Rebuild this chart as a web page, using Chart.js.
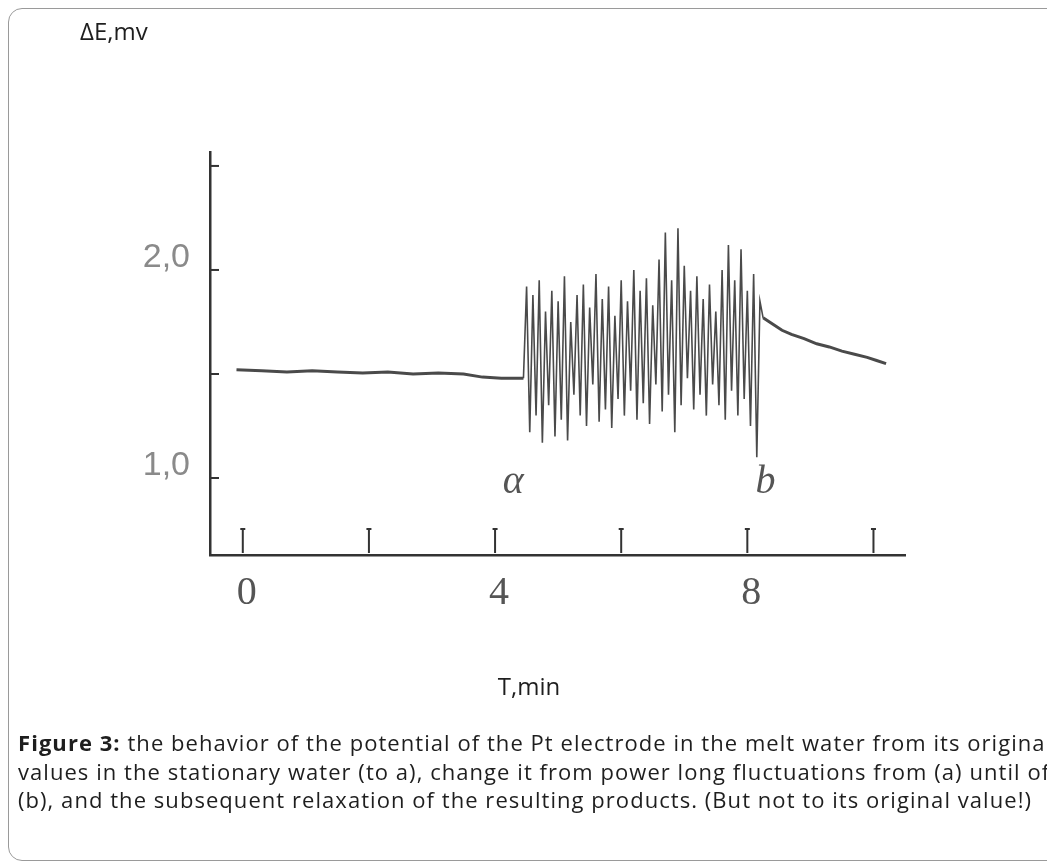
<!DOCTYPE html>
<html>
<head>
<meta charset="utf-8">
<script src="https://cdn.jsdelivr.net/npm/chart.js@4.4.1/dist/chart.umd.min.js"></script>
<style>
    html, body { margin: 0; padding: 0; background: #fff; width: 1047px; height: 865px; overflow: hidden; }
    #frame {
        position: absolute; left: 8px; top: 8px; width: 1100px; height: 853px;
        border: 1.5px solid #9a9a9a; border-radius: 14px; box-sizing: border-box;
    }
    #chart { position: absolute; left: 0; top: 0; }
    .txt { position: absolute; font-family: "Open Sans", sans-serif; color: #1e1e1e; white-space: nowrap; }
    #yTitle { left: 80px; top: 19px; font-size: 24px; line-height: 24px; }
    #xTitle { left: 529px; top: 674px; font-size: 24px; line-height: 24px; transform: translateX(-50%); }
    #caption { left: 18px; top: 728px; font-size: 22px; line-height: 28.5px; }
    #caption b { font-weight: 700; }
</style>
</head>
<body>
<div id="frame"></div>
<canvas id="chart" width="1047" height="865"></canvas>
<div class="txt" id="yTitle">ΔE,mv</div>
<div class="txt" id="xTitle">T,min</div>
<div class="txt" id="caption"><span id="l1"><b>Figure 3:</b> the behavior of the potential of the Pt electrode in the melt water from its original</span><br><span id="l2">values in the stationary water (to a), change it from power long fluctuations from (a) until of</span><br><span id="l3">(b), and the subsequent relaxation of the resulting products. (But not to its original value!)</span></div>

<script>
// 📌 ข้อมูลที่อ่านจากภาพ (เวลา นาที / ΔE, mV)
const baseTimes  = [-0.1, 0.3, 0.7, 1.1, 1.5, 1.9, 2.3, 2.7, 3.1, 3.5, 3.8, 4.1, 4.45];
const baseValues = [1.52, 1.515, 1.51, 1.515, 1.51, 1.505, 1.51, 1.50, 1.505, 1.50, 1.485, 1.48, 1.48];

const fluctTimes = [
    4.45, 4.50, 4.55, 4.60, 4.65, 4.70, 4.75, 4.80, 4.85, 4.90, 4.95, 5.00, 5.05, 5.10, 5.15, 5.20,
    5.25, 5.30, 5.35, 5.40, 5.45, 5.50, 5.55, 5.60, 5.65, 5.70, 5.75, 5.80, 5.85, 5.90, 5.95, 6.00,
    6.05, 6.10, 6.15, 6.20, 6.25, 6.30, 6.35, 6.40, 6.45, 6.50, 6.55, 6.60, 6.65, 6.70, 6.75, 6.80,
    6.85, 6.90, 6.95, 7.00, 7.05, 7.10, 7.15, 7.20, 7.25, 7.30, 7.35, 7.40, 7.45, 7.50, 7.55, 7.60,
    7.65, 7.70, 7.75, 7.80, 7.85, 7.90, 7.95, 8.00, 8.05, 8.10, 8.15, 8.20, 8.25
];
const fluctValues = [
    1.48, 1.92, 1.22, 1.88, 1.30, 1.95, 1.17, 1.80, 1.35, 1.90, 1.20, 1.85, 1.28, 1.97, 1.18, 1.75,
    1.40, 1.88, 1.30, 1.93, 1.25, 1.82, 1.45, 1.98, 1.27, 1.86, 1.33, 1.92, 1.24, 1.78, 1.38, 1.95,
    1.30, 1.85, 1.42, 2.00, 1.28, 1.90, 1.36, 1.96, 1.26, 1.83, 1.45, 2.05, 1.32, 2.18, 1.40, 1.95,
    1.22, 2.20, 1.35, 2.02, 1.48, 1.90, 1.33, 1.97, 1.40, 1.86, 1.30, 1.93, 1.45, 1.80, 1.35, 2.00,
    1.28, 2.12, 1.42, 1.95, 1.30, 2.10, 1.38, 1.90, 1.25, 1.98, 1.10, 1.85, 1.77
];

const relaxTimes  = [8.25, 8.4, 8.55, 8.7, 8.9, 9.1, 9.3, 9.5, 9.7, 9.9, 10.05, 10.2];
const relaxValues = [1.77, 1.74, 1.71, 1.69, 1.67, 1.645, 1.63, 1.61, 1.595, 1.58, 1.565, 1.55];

// 📌 ขีดบนแกน และป้ายกำกับ
const xTickValues  = [0, 2, 4, 6, 8, 10];
const xLabelValues = [0, 4, 8];
const yTickValues  = [1.0, 1.5, 2.0, 2.5];
const yLabelValues = [1.0, 2.0];

const noteTexts  = ["α", "b"];
const noteTimes  = [4.29, 8.29];
const noteValues = [0.98, 0.98];

function toPoints(xs, ys) {
    return xs.map((x, i) => ({ x: x, y: ys[i] }));
}

// ✅ วาดขีดแบบสแกน (ขีดด้านในแกน + ตัวอักษร a, b)
const scanMarks = {
    id: "scanMarks",
    afterDatasetsDraw(chart) {
        const ctx = chart.ctx;
        const xs = chart.scales.x;
        const ys = chart.scales.y;
        ctx.save();
        ctx.strokeStyle = "#333";
        ctx.lineWidth = 2;
        yTickValues.forEach(v => {
            const py = ys.getPixelForValue(v);
            ctx.beginPath();
            ctx.moveTo(xs.left, py);
            ctx.lineTo(xs.left + 9, py);
            ctx.stroke();
        });
        const base = ys.bottom;
        xTickValues.forEach(v => {
            const px = xs.getPixelForValue(v);
            ctx.beginPath();
            ctx.moveTo(px, base - 26);
            ctx.lineTo(px, base - 2);
            ctx.moveTo(px - 2.5, base - 26);
            ctx.lineTo(px + 2.5, base - 26);
            ctx.stroke();
        });
        ctx.fillStyle = "#555";
        ctx.font = "italic 40px 'Liberation Serif', serif";
        ctx.textAlign = "center";
        ctx.textBaseline = "middle";
        noteTexts.forEach((t, i) => {
            ctx.fillText(t, xs.getPixelForValue(noteTimes[i]), ys.getPixelForValue(noteValues[i]));
        });
        ctx.restore();
    }
};

const lineStyle = {
    borderColor: "#4a4a4a",
    pointRadius: 0,
    tension: 0,
    fill: false
};

new Chart(document.getElementById("chart").getContext("2d"), {
    type: "line",
    data: {
        datasets: [
            Object.assign({ label: "base", data: toPoints(baseTimes, baseValues), borderWidth: 3 }, lineStyle),
            Object.assign({ label: "fluct", data: toPoints(fluctTimes, fluctValues), borderWidth: 1.6 }, lineStyle),
            Object.assign({ label: "relax", data: toPoints(relaxTimes, relaxValues), borderWidth: 3 }, lineStyle)
        ]
    },
    options: {
        responsive: false,
        animation: false,
        layout: { padding: { top: 152, right: 142, left: 0, bottom: 0 } },
        plugins: {
            legend: { display: false },
            tooltip: { enabled: false }
        },
        scales: {
            x: {
                type: "linear",
                min: -0.52,
                max: 10.5,
                border: { display: true, color: "#333", width: 2.5 },
                grid: { display: false, drawTicks: false },
                afterBuildTicks: (scale) => { scale.ticks = xTickValues.map(v => ({ value: v })); },
                afterFit: (scale) => { scale.height = 310; },
                ticks: {
                    autoSkip: false,
                    maxRotation: 0,
                    padding: 14,
                    labelOffset: 4,
                    color: "#555",
                    font: { family: "'Liberation Serif', serif", size: 40 },
                    callback: (value) => xLabelValues.includes(value) ? String(value) : ""
                }
            },
            y: {
                min: 0.63,
                max: 2.567,
                border: { display: true, color: "#333", width: 2.5 },
                grid: { display: false, drawTicks: false },
                afterBuildTicks: (scale) => { scale.ticks = yTickValues.map(v => ({ value: v })); },
                afterFit: (scale) => { scale.width = 210; },
                ticks: {
                    autoSkip: false,
                    padding: 20,
                    labelOffset: -12,
                    color: "#8a8a8a",
                    font: { family: "'Liberation Sans', sans-serif", size: 34 },
                    callback: (value) => yLabelValues.includes(value) ? value.toFixed(1).replace(".", ",") : ""
                }
            }
        }
    },
    plugins: [scanMarks]
});

// ✅ ปรับระยะตัวอักษรของคำบรรยายให้กว้างเท่าภาพต้นฉบับ
function fitCaption() {
    const cap = document.getElementById("caption");
    cap.style.letterSpacing = "0px";
    const l3 = document.getElementById("l3");
    const w = l3.getBoundingClientRect().width;
    const n = l3.textContent.length;
    cap.style.letterSpacing = ((1014 - w) / n).toFixed(3) + "px";
}
fitCaption();
if (document.fonts) document.fonts.ready.then(fitCaption);
</script>
</body>
</html>
